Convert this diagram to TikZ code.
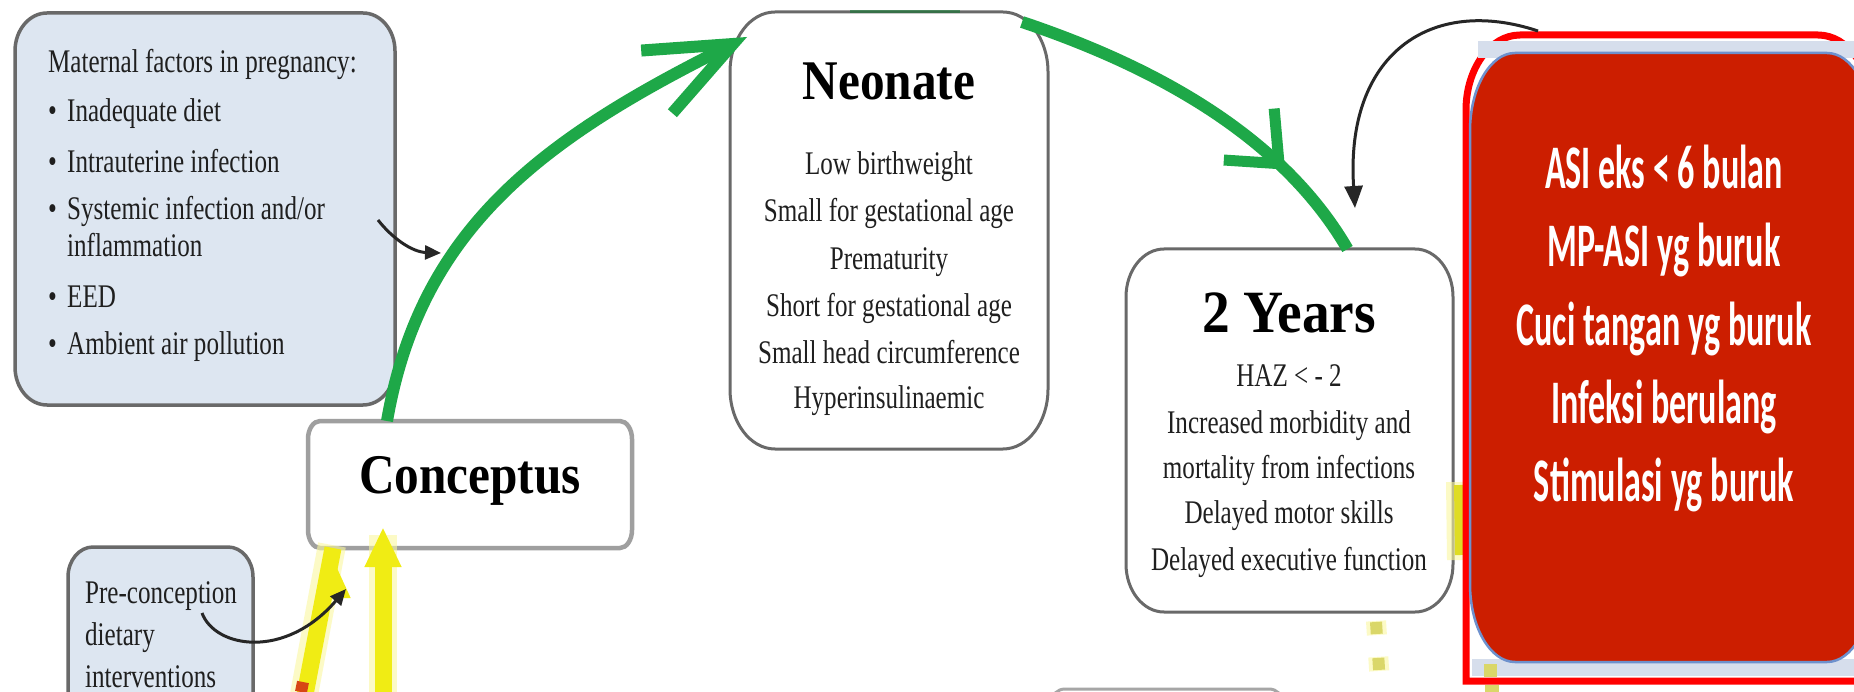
\documentclass[tikz,border=0pt]{standalone}
\usepackage{fontspec}
\usetikzlibrary{arrows.meta,decorations.markings}
\newfontfamily\bodyf[FakeStretch=0.76]{Liberation Serif}
\newfontfamily\titlef[FakeStretch=0.88]{Liberation Serif}
\newfontfamily\redf[FakeStretch=0.55]{Carlito}
\definecolor{matfill}{RGB}{221,230,241}
\definecolor{boxgray}{RGB}{105,105,105}
\definecolor{arrgreen}{RGB}{30,168,72}
\definecolor{ayellow}{RGB}{240,236,20}
\definecolor{yglowc}{RGB}{250,248,160}
\definecolor{ydot}{RGB}{218,215,105}
\definecolor{redfill}{RGB}{204,30,0}
\definecolor{redline}{RGB}{255,0,0}
\definecolor{bandc}{RGB}{214,222,236}
\definecolor{innerline}{RGB}{110,145,205}
\definecolor{orred}{RGB}{215,70,20}
\newcommand\mybul{\makebox[19pt][l]{\textbullet}}
\newcommand\mynobul{\hspace*{19pt}}
\newcommand\ebox[4]{%
\path[#4] ([xshift=#2]#1.north west) -- ([xshift=-#2]#1.north east)
 .. controls ([xshift=-0.448*#2]#1.north east) and ([yshift=-0.448*#3]#1.north east) .. ([yshift=-#3]#1.north east)
 -- ([yshift=#3]#1.south east)
 .. controls ([yshift=0.448*#3]#1.south east) and ([xshift=-0.448*#2]#1.south east) .. ([xshift=-#2]#1.south east)
 -- ([xshift=#2]#1.south west)
 .. controls ([xshift=0.448*#2]#1.south west) and ([yshift=0.448*#3]#1.south west) .. ([yshift=#3]#1.south west)
 -- ([yshift=-#3]#1.north west)
 .. controls ([yshift=-0.448*#3]#1.north west) and ([xshift=0.448*#2]#1.north west) .. ([xshift=#2]#1.north west) -- cycle;}
\tikzset{
 boxn/.style={rectangle, inner sep=0pt, outer sep=0pt},
 bodyt/.style={font=\bodyf\fontsize{33}{40}\selectfont, inner sep=0pt, text=black!88},
 titlet/.style={font=\titlef\bfseries\fontsize{56}{64}\selectfont, inner sep=0pt},
 redt/.style={font=\redf\bfseries\fontsize{62}{70}\selectfont, inner sep=0pt, text=white},
 greenarr/.style={draw, color=arrgreen, line width=12pt},
 blackarr/.style={draw, color=black!85, line width=3pt, -{Triangle[length=16pt,width=14pt]}},
 yarrow/.style={draw, color=ayellow, line width=17pt},
 yglow/.style={draw=yglowc, line width=28pt, opacity=0.6},
}
\begin{document}
\begin{tikzpicture}[x=1pt,y=-1pt]
\useasboundingbox (0,0) rectangle (1854,692);
\clip (0,0) rectangle (1854,692);
\fill[white] (0,0) rectangle (1854,692);

% maternal factors
\node[boxn, minimum width=380pt, minimum height=392pt] (mat) at (205,209) {};
\ebox{mat}{32pt}{38pt}{fill=matfill, draw=boxgray, line width=3.5pt}
\node[bodyt, anchor=base west] (m0) at (48,73) {Maternal factors in pregnancy:};
\node[bodyt, anchor=base west] (m1) at (48,122) {\mybul Inadequate diet};
\node[bodyt, anchor=base west] (m2) at (48,173) {\mybul Intrauterine infection};
\node[bodyt, anchor=base west] (m3) at (48,220) {\mybul Systemic infection and/or};
\node[bodyt, anchor=base west] (m4) at (48,257) {\mynobul inflammation};
\node[bodyt, anchor=base west] (m5) at (48,308) {\mybul EED};
\node[bodyt, anchor=base west] (m6) at (48,355) {\mybul Ambient air pollution};

% pre-conception
\node[boxn, minimum width=185pt, minimum height=223pt] (pre) at (160.5,658.5) {};
\ebox{pre}{25pt}{30pt}{fill=matfill, draw=boxgray, line width=3.5pt}
\node[bodyt, anchor=base west] (p1) at (85,603) {Pre-conception};
\node[bodyt, anchor=base west] (p2) at (85,645) {dietary};
\node[bodyt, anchor=base west] (p3) at (85,687) {interventions};

% conceptus
\node[boxn, minimum width=324pt, minimum height=127pt] (con) at (470,484.5) {};
\ebox{con}{12pt}{18pt}{fill=white, draw=gray!75, line width=4.5pt}
\node[titlet, anchor=base] (cont) at (470,493) {Conceptus};

% neonate
\node[boxn, minimum width=318pt, minimum height=437pt] (neo) at (889,230.5) {};
\ebox{neo}{45pt}{60pt}{fill=white, draw=boxgray, line width=3pt}
\draw[draw=arrgreen!70!black, line width=3pt, opacity=0.6] (850,12) -- (960,12);
\node[titlet, anchor=base] (neot) at (889,100) {Neonate};
\node[bodyt, anchor=base] (n1) at (889,175) {Low birthweight};
\node[bodyt, anchor=base] (n2) at (889,222) {Small for gestational age};
\node[bodyt, anchor=base] (n3) at (889,270) {Prematurity};
\node[bodyt, anchor=base] (n4) at (889,317) {Short for gestational age};
\node[bodyt, anchor=base] (n5) at (889,363) {Small head circumference};
\node[bodyt, anchor=base] (n6) at (889,408) {Hyperinsulinaemic};

% 2 years
\node[boxn, minimum width=327pt, minimum height=363pt] (two) at (1289.5,430.5) {};
\ebox{two}{38pt}{48pt}{fill=white, draw=boxgray, line width=3pt}
\node[titlet, font=\titlef\bfseries\fontsize{60}{68}\selectfont, anchor=base] (twot) at (1289,333) {\scalebox{1.05}[1]{2 Years}};
\node[bodyt, anchor=base] (t1) at (1289,386) {HAZ < - 2};
\node[bodyt, anchor=base] (t2) at (1289,433) {Increased morbidity and};
\node[bodyt, anchor=base] (t3) at (1289,478) {mortality from infections};
\node[bodyt, anchor=base] (t4) at (1289,523) {Delayed motor skills};
\node[bodyt, anchor=base] (t5) at (1289,570) {Delayed executive function};

% partly visible box at the bottom
\node[boxn, minimum width=232pt, minimum height=110pt] (bot) at (1167,744) {};
\ebox{bot}{14pt}{14pt}{draw=gray!70, line width=3pt}

% yellow traces near the 2 years box
\draw[yglow] (1460,482) -- (1461,560);
\draw[draw=ayellow!85!gray, line width=12pt] (1460,485) -- (1461,555);
\draw[yglow, line width=20pt, dash pattern=on 14pt off 22pt] (1376,621) -- (1381,700);
\draw[draw=ydot, line width=12pt, dash pattern=on 12pt off 24pt] (1376,622) -- (1381,700);

% red box
\path[fill=white, draw=redline, line width=7pt] (1466,681) -- (1466,110)
  .. controls (1466,69) and (1490,35) .. (1520,35) -- (1818,35)
  .. controls (1848,35) and (1872,69) .. (1872,110) -- (1872,681) -- cycle;
\fill[bandc] (1478,41) rectangle (1872,58);
\fill[bandc] (1472,659) rectangle (1872,676);
\node[boxn, minimum width=402pt, minimum height=609pt] (red) at (1671,357.5) {};
\ebox{red}{45pt}{78pt}{fill=redfill, draw=innerline, line width=2.5pt}
\node[redt, anchor=base] (r1) at (1664,189) {ASI eks < 6 bulan};
\node[redt, anchor=base] (r2) at (1664,267) {MP-ASI yg buruk};
\node[redt, anchor=base] (r3) at (1664,345) {Cuci tangan yg buruk};
\node[redt, anchor=base] (r4) at (1664,423) {Infeksi berulang};
\node[redt, anchor=base] (r5) at (1664,501) {Stimulasi yg buruk};
\fill[ydot] (1484,664) rectangle (1497,677);
\fill[ydot] (1485,685) rectangle (1499,692);

% yellow arrows into conceptus
\draw[yglow] (303,700) -- (332,545);
\draw[yarrow, -{Triangle[length=40pt,width=32pt]}] (304,700) -- (con.south -| 333,0) ++(0,-10pt);
\draw[yglow] (383,700) -- (383,535);
\draw[yarrow, -{Triangle[length=40pt,width=34pt]}] (383,700) -- ([yshift=21pt]con.south -| 383,0);
\draw[draw=orred, line width=12pt] (301,692) -- (303,682);

% green arrows
\coordinate (g1e) at (747,37);
\draw[greenarr, -{Straight Barb[length=85pt,width=70pt,line width=12pt]}]
  ([xshift=-83pt]con.north) .. controls (420,230) and (540,140) .. (g1e);
\coordinate (g2s) at (1022,22);
\draw[greenarr, postaction={decorate}, decoration={markings, mark=at position 0.75 with {\arrow{Straight Barb[length=42pt,width=72pt,line width=11pt]}}}]
  (g2s) .. controls (1180,75) and (1290,150) .. ([xshift=58pt]two.north);

% black arrows
\coordinate (k0s) at (378,220);
\coordinate (k0e) at (441,253);
\draw[blackarr] (k0s) .. controls (392,238) and (412,252) .. (k0e);
\coordinate (k2s) at (202,613);
\coordinate (k2e) at (346,589);
\draw[blackarr] (k2s) .. controls (215,648) and (285,660) .. (k2e);
\coordinate (k3s) at (1538,31);
\coordinate (k3e) at (1355,208);
\draw[blackarr, -{Triangle[length=22pt,width=18pt]}] (k3s) .. controls (1430,-5) and (1345,55) .. (k3e);
\end{tikzpicture}
\end{document}
